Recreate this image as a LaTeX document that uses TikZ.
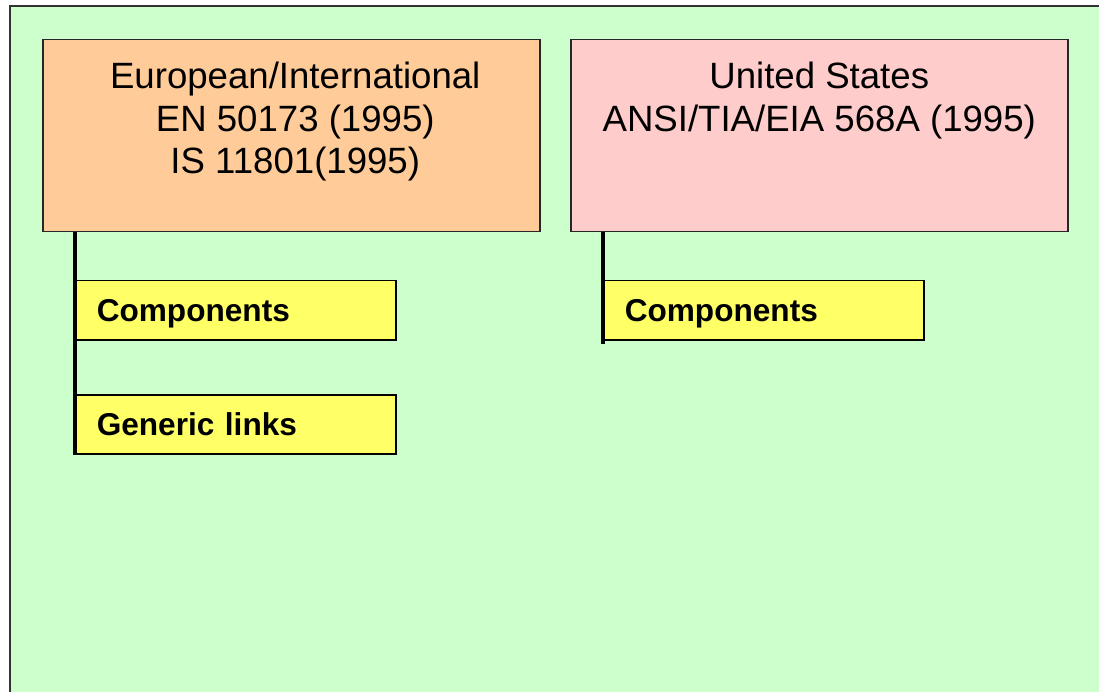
\documentclass[tikz,border=0pt]{standalone}
\usepackage{fontspec}
\setmainfont{Liberation Sans}
\usepackage{tikz}
\usetikzlibrary{positioning}
\definecolor{bgcol}{HTML}{CCFFCC}
\definecolor{eucol}{HTML}{FFCC99}
\definecolor{uscol}{HTML}{FFCCCC}
\definecolor{partcol}{HTML}{FFFF66}

\begin{document}
\begin{tikzpicture}[
  x=1pt, y=-1pt,
  stdbox/.style={rectangle, draw=black!85, line width=1.5pt, minimum width=497pt,
                 minimum height=192pt, inner sep=0pt, anchor=north west},
  headtext/.style={align=center, inner sep=0pt, anchor=north,
                   font=\fontsize{36.6}{42.5}\selectfont},
  partbox/.style={rectangle, draw=black, line width=1.5pt, fill=partcol,
                  text width=278pt, align=left, inner xsep=21pt, inner ysep=0pt,
                  minimum height=59pt, text height=23pt, text depth=0pt,
                  anchor=north west, font=\fontsize{31.6}{38}\selectfont\bfseries},
  trunk/.style={line width=4pt, black}
]
\useasboundingbox (0,0) rectangle (1099,692);
\draw[fill=bgcol, draw=black!80, line width=1.5pt] (10,6) rectangle (1130,720);

\node[stdbox, fill=eucol] (eu) at (42,39) {};
\node[stdbox, fill=uscol] (us) at (570,39) {};
\node[headtext, below=23pt of eu.north, xshift=4pt] (eutext)
  {European/International\\EN 50173 (1995)\\IS 11801(1995)};
\node[headtext, below=23pt of us.north] (ustext)
  {United States\\ANSI/TIA/EIA 568A (1995)};

\node[partbox] (eucomp) at (75,280) {Components};
\node[partbox] (eulinks) at (75,394) {Generic links};
\node[partbox] (uscomp) at (603,280) {Components};

\draw[trunk] (eu.south -| eucomp.west) -- (eulinks.south west);
\draw[trunk] (us.south -| uscomp.west) -- ([yshift=-3pt]uscomp.south west);
\end{tikzpicture}
\end{document}
